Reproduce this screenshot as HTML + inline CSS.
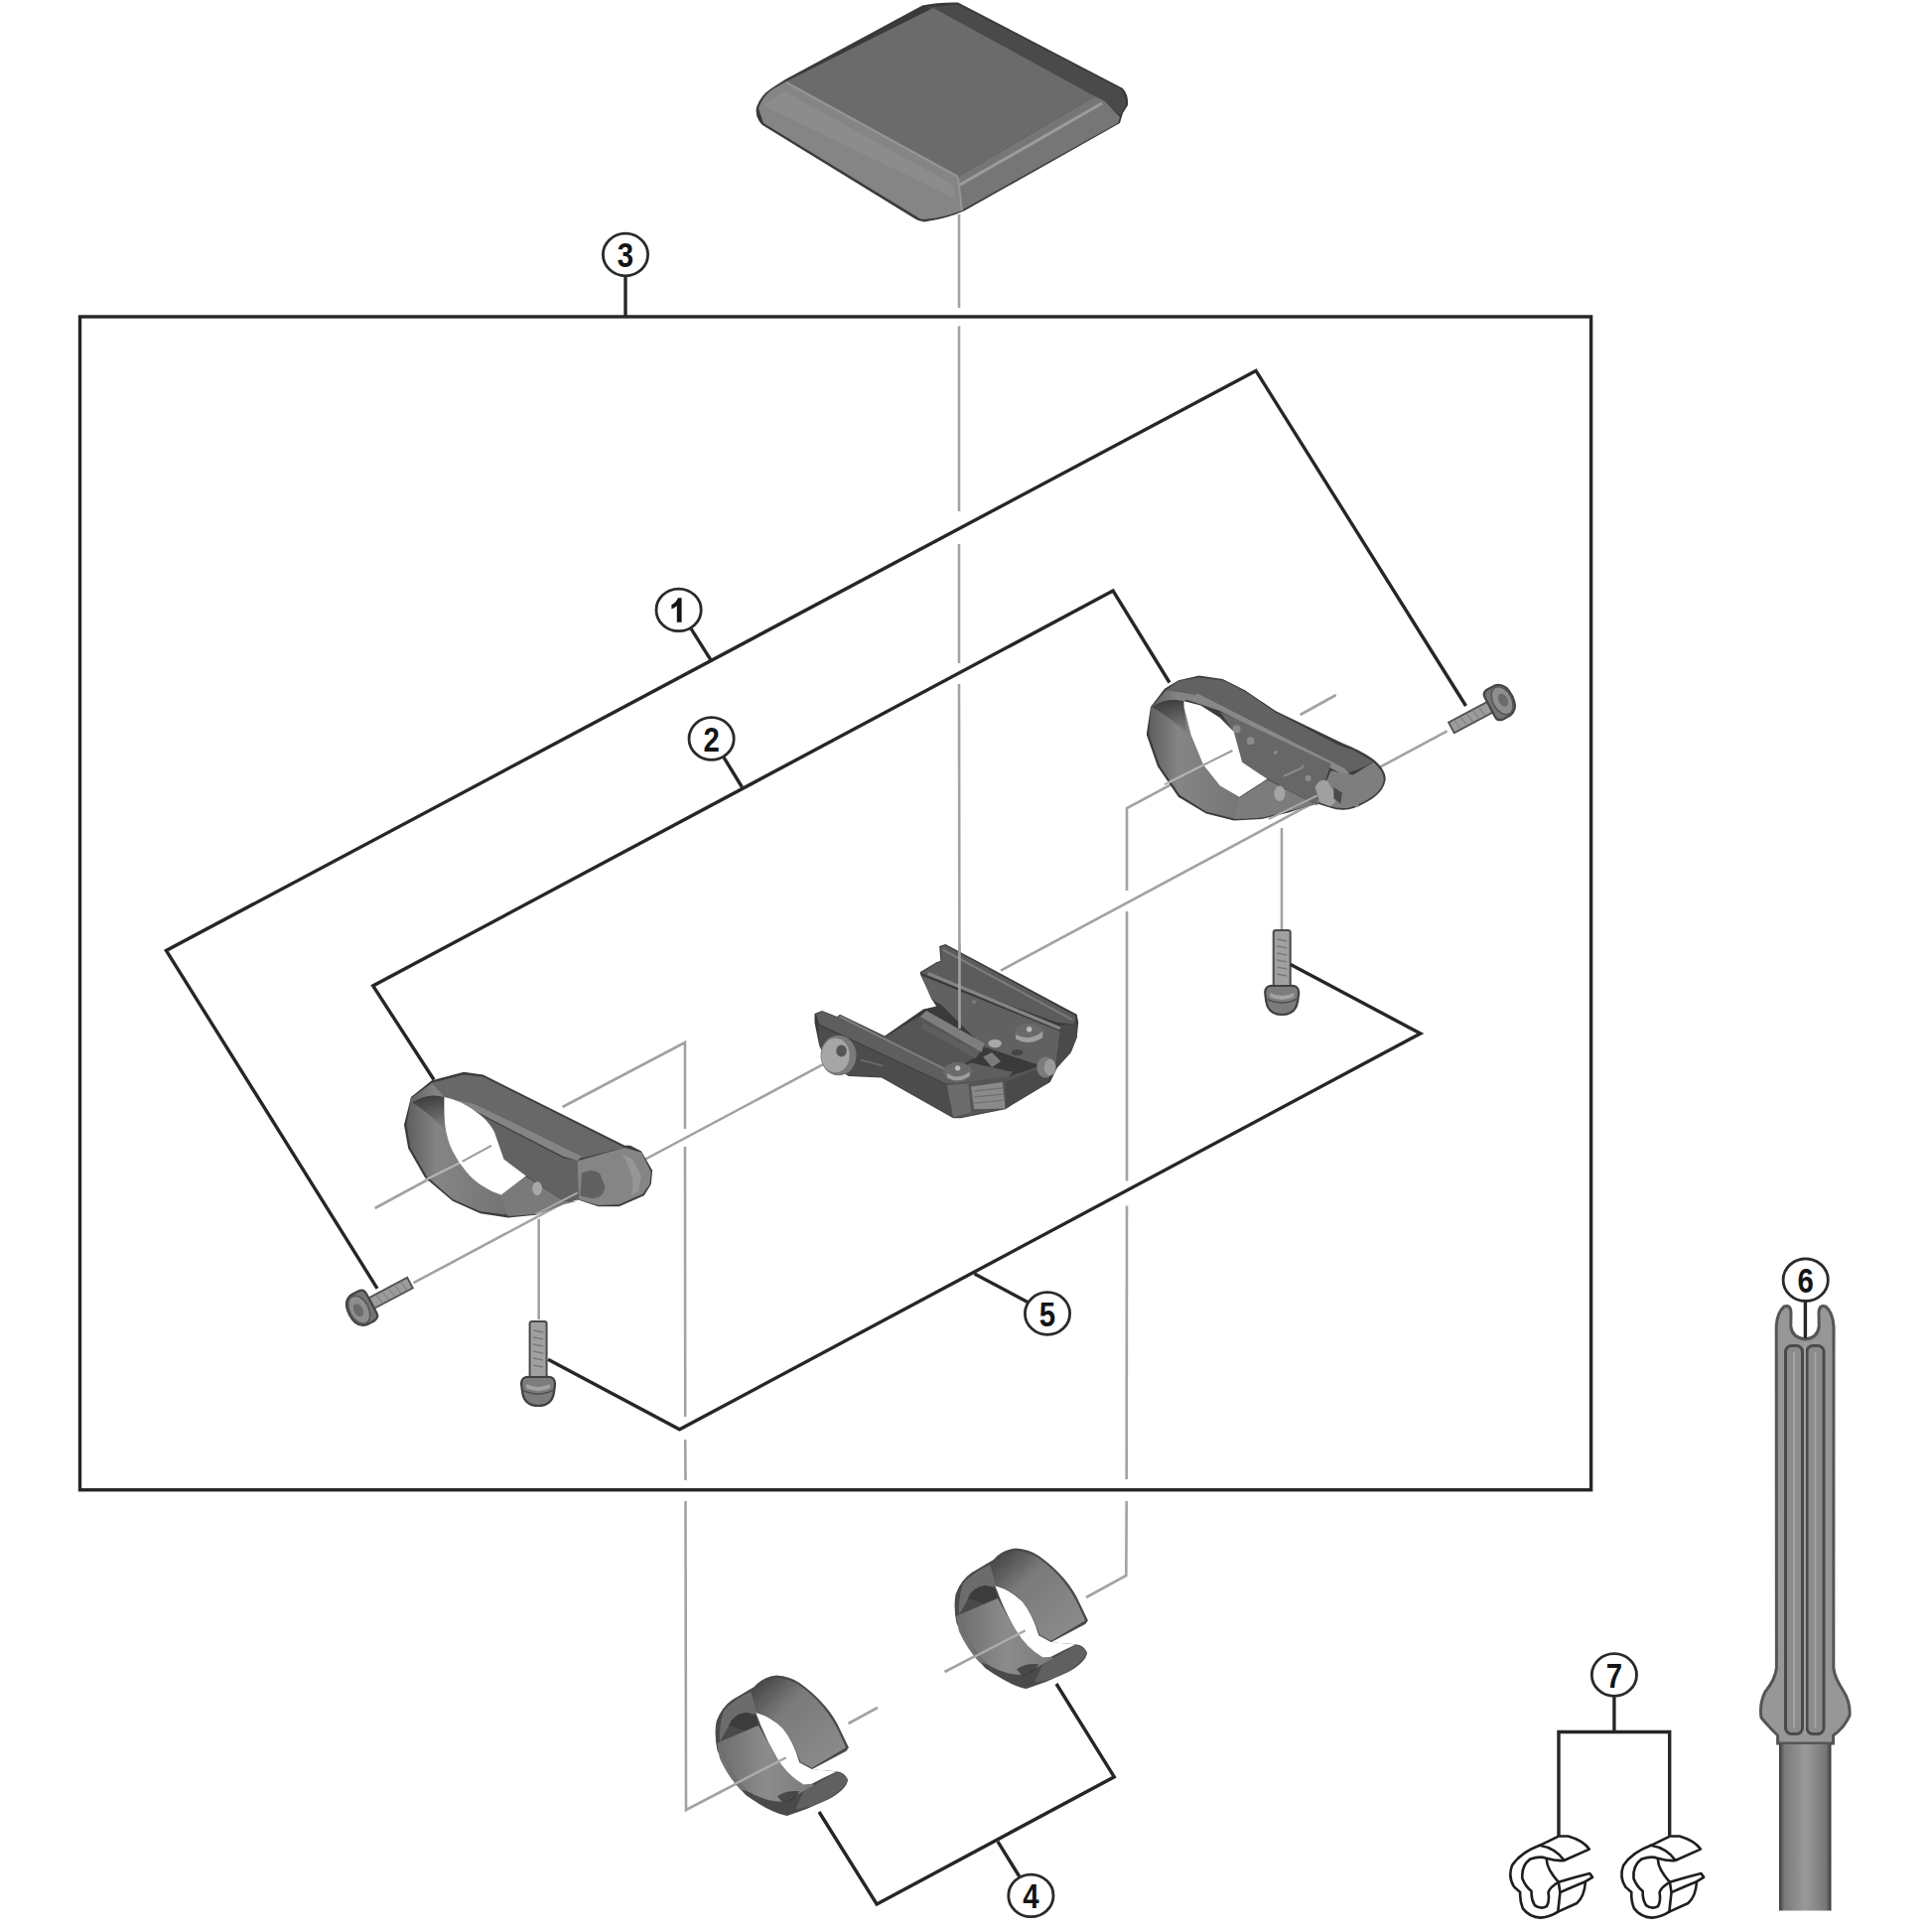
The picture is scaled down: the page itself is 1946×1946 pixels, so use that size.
<!DOCTYPE html>
<html><head><meta charset="utf-8"><title>Parts diagram</title>
<style>
html,body{margin:0;padding:0;background:#fff;width:1946px;height:1946px;overflow:hidden}
svg{display:block}
.k{fill:none;stroke:#262626;stroke-width:3.4;stroke-linejoin:miter;stroke-linecap:butt}
.g{fill:none;stroke:#a2a2a2;stroke-width:2.6;stroke-linecap:butt}
.c{fill:#fff;stroke:#2a2a2a;stroke-width:2.8}
.t{font-family:"Liberation Sans",sans-serif;font-weight:bold;font-size:35px;fill:#141414;text-anchor:middle}
</style></head>
<body>
<svg width="1946" height="1946" viewBox="0 0 1946 1946">
<rect x="0" y="0" width="1946" height="1946" fill="#fff"/>

<!-- GRAY LINES (under parts) -->
<g id="gray">
  <!-- pad centre line (with breaks) -->
  <path class="g" d="M966,216 L966,310 M966,328.5 L966,515 M966,548 L966,668 M966,689 L966.5,1036"/>
  <!-- left clamp axis + vertical to left shim -->
  <path class="g" d="M377.6,1217 L494,1154 M566.6,1115 L690,1050 L690,1137 M690,1155 L690.2,1427 M690.2,1450 L690.5,1491 M690.5,1512 L691,1823 L791,1771"/>
  <!-- right clamp axis + vertical to right shim -->
  <path class="g" d="M1345.7,700 L1309.6,720 M1240,758 L1135,814 L1135,897 M1135,918 L1135,1189.6 M1135,1214.4 L1134.7,1490 M1134.7,1512 L1134.3,1587 L1094,1609"/>
  <!-- long bolt axis -->
  <path class="g" d="M416.5,1292.2 L829,1072.2 M1008,977.6 L1457.6,736.4"/>
  <!-- bottom bolt verticals -->
  <path class="g" d="M542.7,1228 L542.7,1329"/>
  <path class="g" d="M1291,834 L1291,936.5"/>
  <!-- shim axis dashes -->
  <path class="g" d="M854.5,1736 L884,1720 M951.5,1684 L1038,1639"/>
</g>

<g id="pad">
    <path fill="#3a3a3a" d="M929,5.5 Q945,2 965,2.5 L1131,89 Q1137,96 1136,106 L1131,114 L1128,124 L972,212 Q955,220 931,223.5 Q925,223 921,220 L768,126 Q760,118 762,108 Q766,96 777,89 L791,80 Z"/>
    <path fill="#4a4a4a" d="M934,7.5 L965,4.5 L1129,90 Q1134,97 1134,106 L1128,116 L1113,102 L1103,97 Z"/>
    <path fill="#6b6b6b" d="M792,82 L940,8 L1103,97 L965,178 Z"/>
    <path fill="#858585" d="M764,109 Q768,97 778,90 L792,82 L965,178 L969,212 Q952,219 931,221 Q926,221 923,218 L769,124 Z"/>
    <path fill="#8f8f8f" d="M768,106 L790,92 L960,186 L962,200 Z" opacity="0.7"/>
    <path fill="#767676" d="M965,178 L1103,97 L1113,102 L1128,118 L1126,124 L970,211 Z"/>
    <path fill="none" stroke="#9c9c9c" stroke-width="3" d="M967,186 L1110,104"/>
    <path fill="none" stroke="#959595" stroke-width="2" d="M792,83 L965,178"/>
    <path fill="none" stroke="#989898" stroke-width="2" d="M965,179 L969,212"/>
  </g>
<defs>
  <linearGradient id="lring" x1="0" y1="0" x2="1" y2="0">
    <stop offset="0" stop-color="#5e5e5e"/><stop offset="0.3" stop-color="#858585"/><stop offset="1" stop-color="#737373"/>
  </linearGradient>
  <linearGradient id="ringShade" x1="0" y1="0" x2="0" y2="1"><stop offset="0" stop-color="#333" stop-opacity="0.85"/><stop offset="1" stop-color="#333" stop-opacity="0"/></linearGradient>
</defs>
<g id="lclamp" transform="translate(400,1070) scale(0.13975)">
    <path fill="#3c3c3c" d="M480,70 L620,90 L1640,600 L1680,600 L1760,640 L1840,780 L1830,880 L1780,960 L1600,1040 L1450,1040 L1300,990 L1200,1020 L1000,1100 L800,1120 L600,1090 L400,1000 L200,830 L80,620 L50,450 L100,250 L250,130 Z"/>
    <path fill="url(#lring)" d="M100,260 L250,150 L480,95 L340,250 L330,300 L345,450 L400,640 L500,790 L620,895 L750,955 L800,1100 L600,1075 L400,985 L215,825 L95,615 L68,450 Z"/>
    <path fill="url(#ringShade)" d="M110,290 Q220,215 340,250 Q330,360 350,500 Q250,380 110,290 Z"/>
    <path fill="#686868" d="M250,150 L480,90 L620,105 L1640,615 L1330,690 L560,300 L340,250 Z"/>
    <path fill="#8c8c8c" d="M340,250 L560,300 L1330,680 L1300,710 L1200,680 L600,370 Z" opacity="0.9"/>
    <path fill="#626262" d="M600,380 L1200,690 L1300,710 L1320,990 L1200,1000 L930,820 L770,700 L700,500 Z"/>
    <path fill="#858585" d="M1300,710 L1640,615 L1760,650 L1830,790 L1820,880 L1770,950 L1600,1025 L1450,1030 L1310,990 Z"/>
    <path fill="#9a9a9a" opacity="0.8" d="M1620,660 L1700,700 L1760,820 L1740,930 L1690,960 L1700,850 L1660,730 Z"/>
    <path fill="#4a4a4a" d="M1330,800 Q1400,760 1460,800 L1500,900 Q1480,990 1400,980 L1320,960 Z" opacity="0.6"/>
    <path fill="#7a7a7a" d="M740,955 L930,825 L1200,1000 L1300,1000 L1200,1025 L1000,1095 L800,1110 Z"/>
    <ellipse cx="1010" cy="910" rx="35" ry="50" fill="#a8a8a8"/>
    <path stroke="#b4b4b4" stroke-width="16" fill="none" d="M200,850 L470,715"/>
    <path stroke="#a8a8a8" stroke-width="14" fill="none" d="M1000,1095 L1300,940"/>
    <path fill="#fff" d="M340,250 Q400,262 460,290 Q540,330 600,380 Q660,430 700,500 L770,700 L930,820 L750,955 Q680,935 620,895 Q550,850 500,790 Q440,720 400,640 Q360,560 345,450 Q335,360 340,250 Z"/>
    <path stroke="#9c9c9c" stroke-width="15" fill="none" d="M470,715 L680,600"/>
</g>
<g id="rclamp" transform="translate(1145,670) scale(0.13975)">
    <path fill="#3c3c3c" d="M450,75 L620,100 L780,180 L1000,330 L1482,562 Q1640,625 1720,690 Q1800,760 1793,830 Q1780,905 1700,960 Q1600,1025 1526,1040 Q1450,1048 1393,1026 L1290,995 L1100,1060 L900,1110 L700,1120 L500,1070 L300,950 L150,730 L70,500 L100,300 L200,170 L300,110 Z"/>
    <path fill="url(#lring)" d="M100,310 L210,180 L440,200 L340,260 L340,300 L390,500 L480,720 L600,870 L740,950 L800,1105 L700,1105 L500,1055 L310,935 L165,725 L88,500 Z"/>
    <path fill="url(#ringShade)" d="M110,300 Q220,225 340,260 Q340,370 370,500 Q260,390 110,300 Z"/>
    <path fill="#626262" d="M210,180 L300,115 L450,90 L620,110 L780,190 L1000,340 L1450,575 L1560,612 L1705,695 Q1600,760 1480,785 L440,215 Z"/>
    <path fill="#8e8e8e" opacity="0.9" d="M440,205 L1482,735 Q1575,790 1600,1020 L1565,1020 Q1545,830 1470,778 L600,330 L350,245 Z"/>
    <path fill="#676767" d="M600,335 L1400,710 L1300,1010 L940,820 L760,700 L700,480 Z"/>
    <circle cx="720" cy="460" r="28" fill="#8a8a8a"/>
    <circle cx="820" cy="545" r="28" fill="#8a8a8a"/>
    <circle cx="1000" cy="630" r="14" fill="#8a8a8a"/>
    <path stroke="#8a8a8a" stroke-width="16" fill="none" d="M1060,800 L1190,740 L1200,720"/>
    <circle cx="1235" cy="815" r="22" fill="#8a8a8a"/>
    <path fill="#7e7e7e" d="M1400,760 L1560,790 L1705,700 Q1785,765 1780,830 Q1768,900 1692,952 Q1600,1012 1526,1028 Q1450,1036 1395,1016 L1300,985 Z"/>
    
    <path fill="#a0a0a0" d="M1285,880 Q1320,810 1375,835 L1430,925 Q1445,1000 1395,1018 L1320,990 Z"/>
    <path fill="#4a4a4a" d="M1420,880 L1480,920 L1470,1000 L1420,960 Z"/>
    <path fill="#7c7c7c" d="M740,955 L940,825 L1290,1005 L1100,1050 L900,1100 L700,1110 Z"/>
    <ellipse cx="1030" cy="925" rx="40" ry="55" fill="#a4a4a4"/>
    <path stroke="#b4b4b4" stroke-width="16" fill="none" d="M200,860 L480,720"/>
    <path stroke="#aaaaaa" stroke-width="14" fill="none" d="M950,1110 L1300,940"/>
    <path fill="#fff" d="M340,260 L460,290 L600,380 L700,480 L760,700 L940,820 L800,910 L740,950 L600,870 L480,720 L390,500 L340,300 Z"/>
    <path stroke="#9c9c9c" stroke-width="15" fill="none" d="M480,720 L690,615"/>
</g>
<g id="bracket" transform="translate(810,940) scale(0.15011)">
    <path fill="#3a3a3a" d="M70,540 L120,520 L220,560 L240,545 L540,690 L800,510 L860,497 L887,490 L859,448 L780,276 L777,262 L890,193 L915,186 L907,86 L948,73 L1830,545 L1840,600 L1830,700 L1790,800 L1700,900 L1650,1000 L1350,1180 L1050,1240 L1000,1240 L520,970 L300,960 L160,880 L100,750 L70,600 Z"/>
    <!-- back rail top -->
    <path fill="#5c5c5c" d="M785,268 L890,200 L922,192 L915,92 L948,82 L1820,555 L1820,610 L1700,600 Z"/>
    <path fill="none" stroke="#858585" stroke-width="22" d="M830,270 L1720,640"/>
    <path fill="none" stroke="#7a7a7a" stroke-width="14" d="M930,110 L1800,580"/>
    <!-- back rail inner wall -->
    <path fill="#616161" d="M790,285 L1720,660 L1690,870 L1620,900 L1200,760 L920,480 L855,445 Z"/>
    <circle cx="1140" cy="460" r="14" fill="#7a7a7a"/>
    <!-- back rail end faces -->
    <path fill="#4a4a4a" d="M1720,620 L1830,600 L1830,700 L1790,800 L1700,900 L1690,870 Z"/>
    <!-- base plate -->
    <path fill="#555555" d="M540,700 L800,540 L1200,760 L1150,830 L1000,930 L760,830 Z"/>
    <path fill="#7e7e7e" d="M780,560 L820,520 L1210,740 L1190,800 Z"/>
    <path fill="#5f5f5f" d="M800,600 L1180,800 L1150,840 L790,640 Z"/>
    <!-- front rail top -->
    <path fill="#5e5e5e" d="M80,545 L120,525 L220,565 L240,550 L1000,930 L1120,870 L1400,930 L1360,980 L1000,1010 L950,1010 L100,610 Z"/>
    <path fill="none" stroke="#7c7c7c" stroke-width="14" d="M240,560 L1000,940"/>
    <!-- front rail front face -->
    <path fill="#4c4c4c" d="M95,615 L950,1015 L1000,1235 L520,965 L300,955 L160,875 L100,750 Z"/>
    <path fill="none" stroke="#6a6a6a" stroke-width="12" d="M380,850 L530,890"/>
    <!-- right block -->
    <path fill="#555" d="M950,1015 L1370,960 L1650,870 L1640,1000 L1350,1175 L1050,1235 L1000,1235 Z"/>
    <path fill="#8a8a8a" d="M1120,1030 L1330,1000 L1350,1175 L1140,1180 Z"/>
    <path fill="none" stroke="#727272" stroke-width="10" d="M1140,1060 L1330,1040 M1140,1100 L1340,1080 M1140,1140 L1340,1120"/>
    <path fill="#6c6c6c" d="M960,1020 L1100,1010 L1120,1200 L1000,1235 Z"/>
    <path fill="#4a4a4a" d="M1350,1000 L1640,880 L1640,1000 L1350,1175 Z"/>
    <!-- nuts / screws -->
    <ellipse cx="230" cy="820" rx="120" ry="135" fill="#7a7a7a"/>
    <ellipse cx="210" cy="820" rx="95" ry="115" fill="#a6a6a6"/>
    <ellipse cx="250" cy="790" rx="35" ry="40" fill="#555"/>
    <ellipse cx="1030" cy="930" rx="95" ry="65" fill="#6a6a6a"/>
    <path fill="#9e9e9e" d="M960,940 Q1030,990 1110,930 L1110,960 Q1030,1010 960,970 Z"/>
    <circle cx="1030" cy="905" r="18" fill="#bbb"/>
    <ellipse cx="1510" cy="670" rx="100" ry="65" fill="#6a6a6a"/>
    <path fill="#a0a0a0" d="M1420,680 Q1510,730 1600,660 L1600,700 Q1510,760 1420,710 Z"/>
    <circle cx="1510" cy="645" r="18" fill="#bbb"/>
    <ellipse cx="1280" cy="740" rx="45" ry="28" fill="#a8a8a8"/>
    <ellipse cx="1430" cy="800" rx="40" ry="20" fill="#444"/>
    <path fill="#7a7a7a" d="M1200,830 L1260,800 L1320,860 L1260,900 Z"/>
    <ellipse cx="1620" cy="900" rx="60" ry="70" fill="#7c7c7c"/>
    <ellipse cx="1650" cy="900" rx="40" ry="55" fill="#9a9a9a"/>
</g>
<!-- gray lines drawn over parts -->
<path class="g" d="M966.4,950 L966.5,1036"/>
<defs>
  <g id="capscrew">
    <path fill="#9c9c9c" stroke="#505050" stroke-width="1.8" d="M0,-6 L46,-6 L46,6 L0,6 Z"/>
    <path fill="none" stroke="#808080" stroke-width="1.1" d="M6,-5.5 L8,5.5 M13,-5.5 L15,5.5 M20,-5.5 L22,5.5 M27,-5.5 L29,5.5 M34,-5.5 L36,5.5"/>
    <path fill="#747474" stroke="#444" stroke-width="2.2" d="M44,-11 Q44,-16.5 50,-17 L58,-17 Q69,-15 69,0 Q69,15 58,17 L50,17 Q44,16.5 44,11 Z"/>
    <ellipse cx="58" cy="0" rx="9.5" ry="15" fill="#8e8e8e" stroke="#555" stroke-width="1.5"/>
    <ellipse cx="59" cy="0" rx="4.5" ry="7" fill="#6a6a6a"/>
  </g>
  <g id="flangebolt">
    <!-- local origin at top centre of shank -->
    <path fill="#a0a0a0" stroke="#4a4a4a" stroke-width="2" d="M-8.5,1 Q-8.5,-1 -6,-1 L6,-1 Q8.5,-1 8.5,1 L8.5,56 L-8.5,56 Z"/>
    <path fill="none" stroke="#7a7a7a" stroke-width="1.3" d="M-5,8 L5,10 M-5,15 L5,17 M-5,22 L5,24 M-5,29 L5,31 M-5,36 L5,38 M-5,43 L5,45"/>
    <path fill="#7c7c7c" stroke="#404040" stroke-width="2.2" d="M-17,62 Q-17,54 -8.5,55 L8.5,55 Q17,54 17,62 L16,70 Q14,84 0,84 Q-14,84 -16,70 Z"/>
    <path fill="#a4a4a4" d="M-12,62 Q0,68 12,62 L12,66 Q0,72 -12,66 Z"/>
    <path fill="none" stroke="#505050" stroke-width="1.5" d="M-16,68 Q0,76 16,68"/>
  </g>
</defs>
<use href="#capscrew" transform="translate(1461.9,732.9) rotate(-28)"/>
<use href="#capscrew" transform="translate(413,1292) rotate(152)"/>
<use href="#flangebolt" transform="translate(542.1,1332)"/>
<use href="#flangebolt" transform="translate(1291.2,938)"/>
<defs>
  <linearGradient id="shimTop" x1="0" y1="0" x2="1" y2="1">
    <stop offset="0" stop-color="#3c3c3c"/><stop offset="0.35" stop-color="#7a7a7a"/><stop offset="1" stop-color="#8e8e8e"/>
  </linearGradient>
  <linearGradient id="shimIn" x1="0" y1="0" x2="1" y2="0">
    <stop offset="0" stop-color="#6e6e6e"/><stop offset="0.5" stop-color="#8c8c8c"/><stop offset="1" stop-color="#7a7a7a"/>
  </linearGradient>
  <g id="shim">
    <!-- silhouette -->
    <path fill="#4a4a4a" d="M600,230 Q700,110 870,90 Q1030,100 1150,180 Q1320,300 1450,450 Q1580,600 1650,760 L1750,970 L1720,1010 L1300,1235 L1600,1260 Q1700,1270 1740,1360 Q1720,1480 1500,1600 Q1250,1720 1000,1800 Q800,1760 500,1550 Q300,1350 150,1000 Q110,800 140,650 Q200,480 330,390 Z"/>
    <!-- upper arc face -->
    <path fill="url(#shimTop)" d="M560,290 Q700,150 870,120 Q1030,130 1150,210 Q1320,330 1440,480 Q1560,630 1630,780 L1715,970 L1300,1215 L1160,1140 Q1080,900 950,740 Q800,580 630,540 Z"/>
    <!-- left rim + inner -->
    <path fill="#6c6c6c" d="M560,290 L630,540 L600,560 Q450,520 320,640 L260,760 L180,900 Q170,700 230,520 Q350,380 560,290 Z"/>
    <path fill="#3c3c3c" d="M290,700 Q350,560 500,540 L620,580 L650,700 L480,760 Z"/>
    <path fill="url(#shimIn)" d="M180,900 L650,700 Q760,900 880,1100 Q1000,1300 1200,1420 L1300,1410 L1330,1430 Q1150,1520 1000,1620 Q800,1660 520,1500 Q320,1300 220,1050 Z"/>
    <path fill="#727272" d="M150,920 L180,900 L220,1050 Q320,1300 520,1500 L430,1480 Q280,1320 180,1100 Z"/>
    <!-- bottom tab -->
    <path fill="#606060" d="M1200,1500 L1600,1270 Q1700,1280 1730,1360 Q1710,1460 1500,1590 Q1300,1700 1100,1720 Z"/>
    <path fill="#3a3a3a" d="M880,1560 Q1000,1480 1150,1500 Q1100,1620 950,1640 Z" opacity="0.8"/>
    <!-- opening -->
    <path fill="#fff" d="M620,545 Q800,590 950,740 Q1080,900 1150,1150 L1300,1232 L1600,1262 Q1450,1330 1300,1410 L1200,1420 Q1000,1300 880,1100 Q760,900 680,700 Z"/>
  </g>
</defs>
<use href="#shim" transform="translate(710,1680) scale(0.08282)"/>
<use href="#shim" transform="translate(951,1552) scale(0.08282)"/>
<!-- shim axis lines over bodies -->
<path stroke="#acacac" stroke-width="2.4" fill="none" d="M739.6,1797.2 L791.7,1770.4 M980.6,1669.2 L1032.7,1642.4"/>

<defs>
  <linearGradient id="handle" x1="0" y1="0" x2="1" y2="0">
    <stop offset="0" stop-color="#3a3a3a"/><stop offset="0.1" stop-color="#7a7a7a"/><stop offset="0.5" stop-color="#9a9a9a"/><stop offset="0.9" stop-color="#767676"/><stop offset="1" stop-color="#3a3a3a"/>
  </linearGradient>
</defs>
<g id="tool">
  <path fill="#979797" stroke="#555" stroke-width="3" d="M1789.4,1680 L1789.2,1336 Q1790,1322 1797,1316 Q1803.5,1313.5 1804,1322 L1803.8,1336 Q1805,1347.5 1818.5,1349 Q1831,1347.5 1832.2,1336 L1832,1322 Q1832.5,1313.5 1839,1316 Q1846,1322 1847,1336 L1846.8,1680 Q1848,1690 1856,1702 Q1864,1714 1863,1728 Q1858,1740 1846.5,1748 L1846.5,1756 L1790.6,1756 L1790.6,1748 Q1782,1740 1774,1730 Q1772,1716 1778,1704 Q1788,1692 1789.4,1680 Z"/>
  <rect x="1798.5" y="1355.5" width="17" height="391" rx="6" fill="#8c8c8c" stroke="#4a4a4a" stroke-width="3"/>
  <rect x="1820" y="1355.5" width="17" height="391" rx="6" fill="#8c8c8c" stroke="#4a4a4a" stroke-width="3"/>
  <path stroke="#a4a4a4" stroke-width="2" fill="none" d="M1807,1362 L1807,1740 M1828.5,1362 L1828.5,1740"/>
  <path stroke="#a0a0a0" stroke-width="2" fill="none" d="M1818,1352 L1818,1747"/>
  <rect x="1792" y="1755.5" width="52.5" height="169" fill="url(#handle)"/>
  <path stroke="#555" stroke-width="2" fill="none" d="M1792,1756 L1844.5,1756"/>
</g>
<defs>
  <g id="clip">
    <g fill="#fff" stroke="#1e1e1e" stroke-width="24" stroke-linejoin="round" stroke-linecap="round">
      <path d="M375,265 Q200,330 120,450 Q80,560 140,650 L195,700 Q190,780 220,850 Q280,930 385,935 Q470,930 545,880 L720,800 Q790,740 800,600 L865,560 L840,525 Q700,560 550,605 Q470,650 455,700 Q470,780 440,830 Q385,860 330,820 Q295,760 300,690 Q240,640 215,570 Q205,450 290,390 Q380,360 440,385 Q520,410 600,405 L835,300 Q780,220 640,180 L550,180 Z"/>
      <path fill="none" d="M375,265 Q520,290 600,400"/>
      <path fill="none" d="M440,395 Q440,480 550,605"/>
      <path fill="none" d="M550,605 L565,700 L545,880"/>
      <path fill="none" d="M565,700 Q700,640 800,600"/>
    </g>
  </g>
</defs>
<use href="#clip" transform="translate(1510,1830) scale(0.1087)"/>
<use href="#clip" transform="translate(1622.1,1830) scale(0.1087)"/>
<!-- BLACK LEADER LINES -->
<g id="black">
  <rect class="k" x="80.5" y="319" width="1522.1" height="1181.7"/>
  <line class="k" x1="630" y1="278" x2="630" y2="319"/>
  <!-- 1 -->
  <polyline class="k" points="380,1297.8 167.4,957.4 1265,373.4 1476.5,711"/>
  <line class="k" x1="695.5" y1="632.4" x2="716" y2="664.8"/>
  <!-- 2 -->
  <polyline class="k" points="437,1087.5 375.7,993 1121.1,595.1 1178,687.5"/>
  <line class="k" x1="728.6" y1="762.2" x2="747.5" y2="793"/>
  <!-- 5 -->
  <polyline class="k" points="552,1369.2 684.5,1439.8 1430.7,1041 1300,971.5"/>
  <line class="k" x1="981.5" y1="1283" x2="1035" y2="1311.5"/>
  <!-- 4 -->
  <polyline class="k" points="825,1825 883.1,1918 1122.3,1789.8 1064,1696"/>
  <line class="k" x1="1005" y1="1854.8" x2="1026.7" y2="1890"/>
  <!-- 7 -->
  <line class="k" x1="1625.9" y1="1708" x2="1625.9" y2="1744.5"/>
  <polyline class="k" points="1570,1850 1570,1744.5 1681.7,1744.5 1681.7,1850"/>
  <!-- 6 -->
  <line class="k" x1="1818.4" y1="1311" x2="1818.4" y2="1348"/>
</g>
<!-- LABEL CIRCLES -->
<g id="labels">
  <ellipse class="c" cx="630" cy="256.5" rx="22.6" ry="21.3"/><text class="t" transform="translate(630,256.5) scale(0.84,1)" x="0" y="12.6">3</text>
  <ellipse class="c" cx="683.6" cy="614.4" rx="22.6" ry="21.3"/><path fill="#141414" d="M686.6,602.2 L686.6,626.8 L681.8,626.8 L681.8,610.2 Q679.2,612.6 676.4,613.4 L676.4,609 Q680.6,607.2 683,602.2 Z"/>
  <ellipse class="c" cx="716.6" cy="744" rx="22.6" ry="21.3"/><text class="t" transform="translate(716.6,744) scale(0.84,1)" x="0" y="12.6">2</text>
  <ellipse class="c" cx="1055" cy="1323" rx="22.6" ry="21.3"/><text class="t" transform="translate(1055,1323) scale(0.84,1)" x="0" y="12.6">5</text>
  <ellipse class="c" cx="1038.4" cy="1909.4" rx="22.6" ry="21.3"/><text class="t" transform="translate(1038.4,1909.4) scale(0.84,1)" x="0" y="12.6">4</text>
  <ellipse class="c" cx="1625.9" cy="1687" rx="22.6" ry="21.3"/><text class="t" transform="translate(1625.9,1687) scale(0.84,1)" x="0" y="12.6">7</text>
  <ellipse class="c" cx="1818.7" cy="1289.2" rx="22.6" ry="21.3"/><text class="t" transform="translate(1818.7,1289.2) scale(0.84,1)" x="0" y="12.6">6</text>
</g>
</svg>
</body></html>
